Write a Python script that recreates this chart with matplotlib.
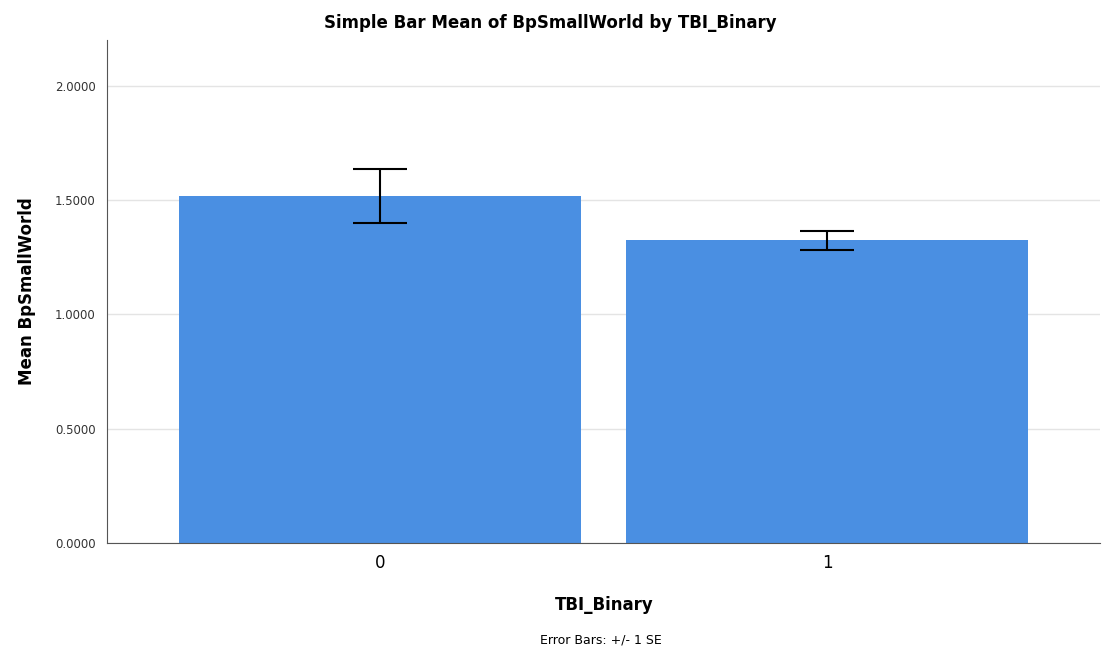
import matplotlib
matplotlib.use('agg')
import matplotlib.pyplot as plt
import numpy as np

categories = ["0", "1"]
means = [1.517, 1.324]
se = [0.117, 0.042]
yticks = [0.0, 0.5, 1.0, 1.5, 2.0]

plt.rcParams['font.family'] = ['DejaVu Sans']

fig = plt.figure(figsize=(11.02, 6.56), dpi=100)
ax = fig.add_axes([0.0971, 0.1723, 0.9009, 0.7667])

x = np.arange(len(categories))
ax.bar(x, means, width=0.9, color='#4a8fe2', zorder=2)
ax.errorbar(x, means, yerr=se, fmt='none', ecolor='black', elinewidth=1.5,
            capsize=19.5, capthick=1.5, zorder=3)

ax.set_xlim(-0.61, 1.61)
ax.set_ylim(0, 2.2)
ax.set_yticks(yticks)
ax.set_yticklabels(["%.4f" % v for v in yticks], fontsize=8.5, color='#333333')
ax.set_xticks(x)
ax.set_xticklabels(categories, fontsize=12)
ax.tick_params(axis='both', length=0, pad=8)
ax.yaxis.grid(True, color='#e4e4e4', linewidth=1, zorder=0)

for s in ['top', 'right']:
    ax.spines[s].set_visible(False)
ax.spines['left'].set_color('#555555')
ax.spines['bottom'].set_color('#555555')

ax.set_ylabel("Mean BpSmallWorld", fontsize=12, fontweight='bold', labelpad=14)
fig.text(0.499, 0.965, "Simple Bar Mean of BpSmallWorld by TBI_Binary",
         ha='center', va='center', fontsize=12, fontweight='bold')
fig.text(0.548, 0.078, "TBI_Binary", ha='center', va='center',
         fontsize=12, fontweight='bold')
fig.text(0.545, 0.024, "Error Bars: +/- 1 SE", ha='center', va='center',
         fontsize=9)

fig.savefig("out.png", dpi=100)
